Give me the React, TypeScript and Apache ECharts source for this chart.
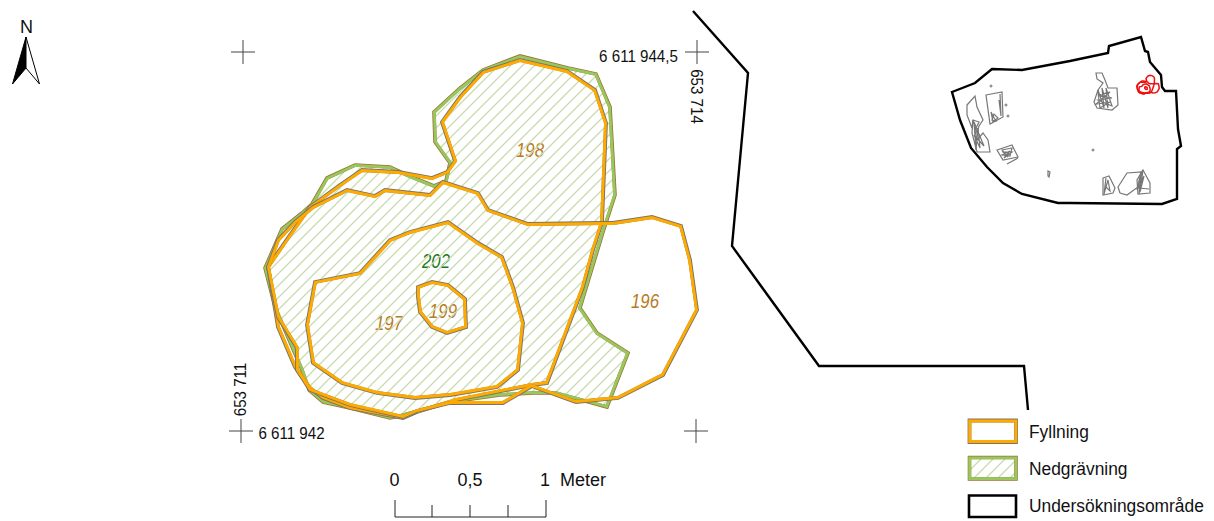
import React, { useEffect, useRef } from "react";
import * as echarts from "echarts";

type P = number[];
const nedgravning202: P[] = [[265,268],[282,229],[302,213],[312,204],[327,178],[355,165],[390,167],[407,175],[434,186],[446,181],[450,163],[435,142],[434,112],[460,88],[483,70],[520,56],[568,68],[596,74],[610,107],[615,195],[603,232],[580,308],[597,333],[628,353],[607,407],[556,393],[533,393],[500,395],[450,402],[400,416],[390,418],[350,408],[323,402],[309,390],[302,370],[275,307]];
const fyllning198: P[] = [[268,267],[290,235],[310,207],[340,185],[362,170],[398,172],[432,178],[447,172],[455,161],[442,122],[460,97],[483,72],[520,60],[567,71],[595,90],[606,123],[602,222],[593,250],[583,287],[547,383],[532,385],[456,400],[417,412],[403,418],[350,408],[323,398],[310,388],[295,367],[278,327]];
const fyllning196: P[] = [[313,207],[347,190],[375,196],[385,190],[430,195],[443,182],[478,193],[488,210],[528,224],[602,223],[613,223],[652,217],[681,226],[690,260],[697,310],[663,375],[618,398],[576,402],[537,388],[532,386],[503,403],[450,403],[417,411],[403,417],[350,405],[310,390],[297,370],[297,348],[278,317],[268,267],[278,240],[295,222]];
const fyllning197: P[] = [[315,282],[360,273],[390,240],[410,232],[448,222],[478,243],[502,257],[513,287],[523,323],[518,370],[497,387],[450,395],[415,398],[377,393],[342,383],[313,363],[307,325]];
const fyllning199: P[] = [[418,287],[432,282],[448,285],[465,299],[466,327],[447,333],[432,327],[420,312],[418,297]];
const hatchPolygons = [nedgravning202];
const fyllningPolygons = [fyllning198, fyllning196, fyllning197, fyllning199];

const projectBoundary: P[] = [[693,11],[748,73],[732,246],[819,366],[1024,366],[1028,410]];
const insetBoundary: P[] = [[952,92],[975,83],[992,69],[1022,70],[1070,61],[1108,53],[1109,46],[1141,37],[1145,51],[1148,52],[1150,62],[1161,75],[1162,87],[1165,91],[1176,91],[1178,129],[1181,146],[1177,149],[1177,199],[1162,204],[1070,203],[1058,203],[1022,194],[1003,183],[987,167],[971,148],[960,120]];
const insetFeatures: P[][] = [
  [[967,105],[975,96],[977,107],[983,120],[979,126],[977,133],[973,120],[972,128],[967,115]],
  [[973,120],[972,133],[977,152],[990,152],[988,140],[983,133],[977,140],[975,130],[979,122]],
  [[974,122],[976,150],[978,128],[980,148],[974,135],[984,146]],
  [[986,95],[1002,92],[1003,117],[990,124]],
  [[1000,94],[1001,116],[999,100]],
  [[991,112],[993,122],[998,118],[994,114],[992,120],[996,121],[993,116]],
  [[1096,73],[1102,73],[1105,80],[1108,88],[1117,88],[1118,105],[1112,110],[1097,108],[1094,102],[1098,90],[1103,83],[1097,79]],
  [[1098,90],[1104,108],[1102,88],[1108,108],[1106,88],[1112,106],[1098,100],[1112,98],[1098,95],[1110,92],[1096,104],[1110,102],[1100,108],[1098,92]],
  [[997,150],[1012,145],[1018,157],[1003,160]],
  [[1002,150],[1012,148],[1010,156],[1002,155],[1010,151],[1004,158],[1012,152],[1003,152],[1008,157]],
  [[1007,164],[1018,158]],
  [[1048,171],[1050,172],[1049,177],[1048,176]],
  [[1103,178],[1109,176],[1115,188],[1113,193],[1103,195]],
  [[1106,178],[1104,194],[1108,180],[1110,191],[1105,186]],
  [[1118,187],[1127,173],[1142,172],[1138,187],[1127,195],[1120,193]],
  [[1143,170],[1150,183],[1150,193],[1138,194],[1137,180]],
  [[1143,170],[1139,194],[1141,172],[1137,190],[1144,176],[1140,192]],
  [[1138,188],[1149,189]],
];
const insetDots: P[] = [[991,86],[1008,116],[1093,150],[1006,105]];
const crosses: P[] = [[243,52],[697,52],[241,431],[696,431]];
const scaleBase: P[] = [[395,517],[546,517]];
const scaleMajor: P[][] = [[[395,500],[395,517]],[[546,500],[546,517]]];
const scaleMinor: P[][] = [[[432,505],[432,517]],[[470,505],[470,517]],[[508,505],[508,517]]];
const arrowLeft: P[] = [[26,37],[12.5,84],[26,68]];
const arrowRight: P[] = [[26,37],[39.5,84],[26,68]];
const legendNames = ["Fyllning", "Nedgrävning", "Undersökningsområde"];
const legendBoxes: P[][] = [
  [[969.5,420.5],[1016,420.5],[1016,442],[969.5,442]],
  [[969.5,457.5],[1016,457.5],[1016,479],[969.5,479]],
  [[969,495.5],[1016,495.5],[1016,517],[969,517]],
];
const polyLabels: [string, number, number, string][] = [
  ["198", 530, 150, "#b87a22"],
  ["202", 436, 261, "#1c7a1c"],
  ["197", 389, 323, "#b87a22"],
  ["199", 443, 311, "#b87a22"],
  ["196", 645, 301, "#b87a22"],
];
const scaleLabels: [string, number, number][] = [["0", 394.5, 480], ["0,5", 470, 480], ["1", 545, 480], ["Meter", 583, 480]];
const coordLabels: [string, number, number, number][] = [
  ["6 611 944,5", 638.5, 56, 0],
  ["6 611 942", 291.5, 433, 0],
  ["653 714", 697, 96.5, -Math.PI / 2],
  ["653 711", 240, 389.5, Math.PI / 2],
];

const FONT = "'Liberation Sans', Arial, sans-serif";
const GREY = "#7a7468";
const ORANGE = "#ffaa00";
const GREEN = "#96c85a";
const BROWN = "#a0703c";

function hatch(): any {
  const s = 12;
  const c = document.createElement("canvas");
  c.width = s; c.height = s;
  const g = c.getContext("2d")!;
  g.strokeStyle = "#c8dcae";
  g.lineWidth = 1.3;
  g.beginPath();
  g.moveTo(-1, s + 1); g.lineTo(s + 1, -1);
  g.moveTo(-1, 1); g.lineTo(1, -1);
  g.moveTo(s - 1, s + 1); g.lineTo(s + 1, s - 1);
  g.stroke();
  return { image: c, repeat: "repeat" };
}

function inset(pts: number[][], d: number): number[][] {
  let area = 0;
  const n = pts.length;
  pts.forEach((p, i) => { const q = pts[(i + 1) % n]; area += p[0] * q[1] - q[0] * p[1]; });
  const sign = area > 0 ? 1 : -1;
  return pts.map((p, i) => {
    const a = pts[(i - 1 + n) % n], b = pts[(i + 1) % n];
    const dx = b[0] - a[0], dy = b[1] - a[1];
    const l = Math.hypot(dx, dy) || 1;
    return [p[0] - (dy / l) * d * sign, p[1] + (dx / l) * d * sign];
  });
}

function shape(points: P[], style: any, opts: { closed?: boolean; shift?: number; map?: (p: P) => P } = {}): any {
  return {
    type: "custom",
    coordinateSystem: "cartesian2d",
    silent: true,
    clip: false,
    data: points,
    renderItem: (params: any, api: any) => {
      if (params.dataIndex !== 0) return null;
      let pts = points.map((p) => api.coord(opts.map ? opts.map(p) : p));
      if (opts.shift) pts = inset(pts, opts.shift);
      return {
        type: opts.closed === false ? "polyline" : "polygon",
        shape: { points: pts },
        style,
      };
    },
  };
}

function dots(points: P[]): any {
  return {
    type: "scatter",
    silent: true,
    symbolSize: 3,
    itemStyle: { color: "#777" },
    data: points,
  };
}

const text = (t: string, x: number, y: number, size: number, color: string, align: string, sx: number, extra: any = {}) => ({
  type: "text",
  x, y,
  scaleX: sx,
  rotation: extra.rotation || 0,
  silent: true,
  style: { text: t, x: 0, y: 0, fill: color, font: `${extra.italic ? "italic " : ""}${size}px ${FONT}`, textAlign: align, textVerticalAlign: "middle" },
});

export default function App() {
  const ref = useRef<HTMLDivElement>(null);
  useEffect(() => {
    document.body.style.margin = "0";
    const chart = echarts.init(ref.current!, undefined, { renderer: "svg" });
    const pat = hatch();
    const miniMap = (p: P): P => [1148 + (p[0] - 481) * 0.052, 84.5 + (p[1] - 237) * 0.052];
    const series: any[] = [];

    hatchPolygons.forEach((poly) => {
      series.push(shape(poly, { fill: pat, stroke: BROWN, lineWidth: 3.6 }, { closed: true }));
      series.push(shape(poly, { fill: "none", stroke: GREEN, lineWidth: 2.8 }, { closed: true, shift: 0.4 }));
    });
    fyllningPolygons.forEach((poly) => {
      series.push(shape(poly, { fill: "none", stroke: GREY, lineWidth: 3.8 }, { closed: true }));
      series.push(shape(poly, { fill: "none", stroke: ORANGE, lineWidth: 2.9 }, { closed: true, shift: 0.5 }));
    });
    series.push(shape(projectBoundary, { fill: "none", stroke: "#000", lineWidth: 2.4 }, { closed: false }));
    series.push(shape(insetBoundary, { fill: "none", stroke: "#000", lineWidth: 2.4 }, { closed: true }));
    insetFeatures.forEach((f) => series.push(shape(f, { fill: "none", stroke: "#777", lineWidth: 1.2 }, { closed: f.length > 3 })));
    series.push(dots(insetDots));
    fyllningPolygons.forEach((poly) => series.push(shape(poly, { fill: "none", stroke: "#f01010", lineWidth: 1.5 }, { closed: true, map: miniMap })));
    crosses.forEach(([x, y]) => {
      series.push(shape([[x - 12, y], [x + 12, y]], { fill: "none", stroke: "#444", lineWidth: 1 }, { closed: false }));
      series.push(shape([[x, y - 12], [x, y + 12]], { fill: "none", stroke: "#444", lineWidth: 1 }, { closed: false }));
    });
    series.push(shape(scaleBase, { fill: "none", stroke: "#222", lineWidth: 1 }, { closed: false }));
    [...scaleMajor, ...scaleMinor].forEach((t) => series.push(shape(t, { fill: "none", stroke: "#222", lineWidth: 1 }, { closed: false })));
    series.push(shape(arrowLeft, { fill: "#000", stroke: "#000", lineWidth: 1 }));
    series.push(shape(arrowRight, { fill: "#fff", stroke: "#000", lineWidth: 1 }));
    series.push(shape(legendBoxes[0], { fill: "#fff", stroke: GREY, lineWidth: 3.8 }));
    series.push(shape(legendBoxes[0], { fill: "none", stroke: ORANGE, lineWidth: 2.9 }, { shift: 0.5 }));
    series.push(shape(legendBoxes[1], { fill: pat, stroke: BROWN, lineWidth: 3.6 }));
    series.push(shape(legendBoxes[1], { fill: "none", stroke: GREEN, lineWidth: 2.8 }, { shift: 0.4 }));
    series.push(shape(legendBoxes[2], { fill: "#fff", stroke: "#000", lineWidth: 2.6 }));

    const graphic: any[] = [
      text("N", 26.5, 27, 18, "#111", "center", 1),
      ...polyLabels.map(([t, x, y, c]) => text(t, x, y, 21, c, "center", 0.8, { italic: true })),
      ...scaleLabels.map(([t, x, y]) => text(t, x, y, 18, "#111", "center", 1)),
      ...coordLabels.map(([t, x, y, r]) => text(t, x, y, 17.2, "#111", "center", 0.88, { rotation: r })),
      ...legendNames.map((t, i) => text(t, 1029, [432, 469, 506][i], 18.5, "#111", "left", 0.94)),
    ];

    chart.setOption({
      animation: false,
      backgroundColor: "#fff",
      grid: { left: 0, right: 0, top: 0, bottom: 0 },
      xAxis: { type: "value", min: 0, max: 1214, show: false },
      yAxis: { type: "value", min: 0, max: 521, inverse: true, show: false },
      series,
      graphic,
    });
    return () => chart.dispose();
  }, []);
  return <div ref={ref} style={{ position: "absolute", left: 0, top: 0, width: 1214, height: 521 }} />;
}
